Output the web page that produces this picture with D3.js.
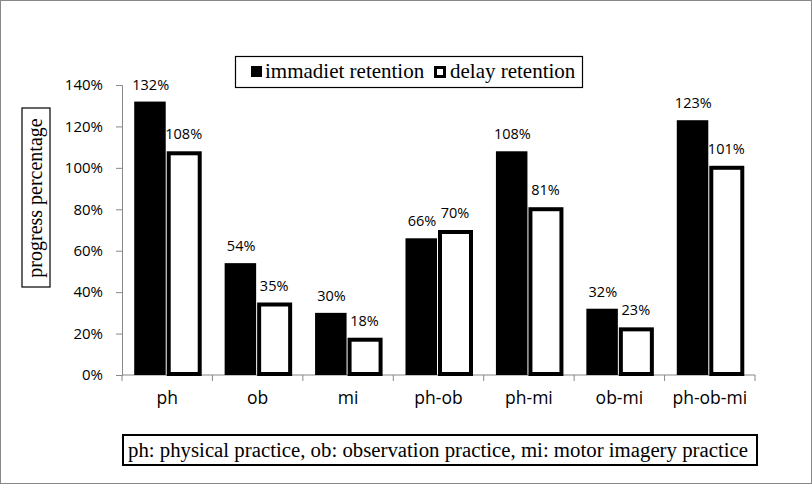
<!DOCTYPE html>
<html>
<head>
<meta charset="utf-8">
<script src="https://cdn.jsdelivr.net/npm/d3@7"></script>
<style>
  body { margin:0; background:#fff; }
  svg { display:block; }
</style>
</head>
<body>
<svg id="chart" width="812" height="484"></svg>
<script>
// data
var categories = ["ph","ob","mi","ph-ob","ph-mi","ob-mi","ph-ob-mi"];
var immediate = [132,54,30,66,108,32,123];
var delay = [108,35,18,70,81,23,101];
var seriesNames = ["immadiet retention","delay retention"];
var yTicks = [0,20,40,60,80,100,120,140];
var note = "ph: physical practice, ob: observation practice, mi: motor imagery practice";

var svg = d3.select("#chart");

// outer frame
svg.append("rect").attr("x",0.5).attr("y",0.5).attr("width",811).attr("height",483)
  .attr("fill","#fff").attr("stroke","#888").attr("stroke-width",1);

var pLeft=122, pRight=755, pTop=85, pBottom=375;

var y = d3.scaleLinear().domain([0,140]).range([pBottom,pTop]);
var x0 = d3.scaleBand().domain(categories).range([pLeft,pRight]).padding(0);
var x1 = d3.scaleBand().domain([0,1]).range([0,x0.bandwidth()]).paddingInner(0).paddingOuter(0.37);

var rows = categories.map(function(c,i){ return {cat:c, vals:[immediate[i],delay[i]]}; });

// y axis
var yAxis = svg.append("g").attr("transform","translate("+pLeft+",0)")
  .call(d3.axisLeft(y).tickValues(yTicks).tickSize(6).tickPadding(13).tickFormat(function(d){return d+"%";}));
yAxis.select(".domain").attr("stroke","#888");
yAxis.selectAll(".tick line").attr("stroke","#888");
yAxis.selectAll("text").attr("font-family","'Open Sans', sans-serif").attr("font-size","15px").attr("fill","#000");

// x axis: ticks at category boundaries
var xg = svg.append("g").attr("transform","translate(0,"+pBottom+")");
xg.append("line").attr("x1",pLeft).attr("x2",pRight).attr("stroke","#888");
var bounds = categories.map(function(c){return x0(c);}).concat([pRight]);
xg.selectAll(".tk").data(bounds).enter().append("line")
  .attr("x1",function(d){return d;}).attr("x2",function(d){return d;})
  .attr("y1",0).attr("y2",6).attr("stroke","#888");
xg.selectAll(".cl").data(categories).enter().append("text")
  .attr("x",function(d){return x0(d)+x0.bandwidth()/2;})
  .attr("y",29)
  .attr("text-anchor","middle")
  .attr("font-family","'Open Sans', sans-serif").attr("font-size","17.5px")
  .text(function(d){return d;});

// bars
var groups = svg.selectAll(".grp").data(rows).enter().append("g")
  .attr("transform",function(d){return "translate("+x0(d.cat)+",0)";});

groups.append("rect")
  .attr("x",x1(0)).attr("width",x1.bandwidth()-1.5)
  .attr("y",function(d){return y(d.vals[0]);})
  .attr("height",function(d){return pBottom-y(d.vals[0]);})
  .attr("fill","#000");

groups.append("rect")
  .attr("x",x1(1)+1.5).attr("width",x1.bandwidth()-2)
  .attr("y",function(d){return y(d.vals[1])+2;})
  .attr("height",function(d){return pBottom-y(d.vals[1])-3;})
  .attr("fill","#fff").attr("stroke","#000").attr("stroke-width",4);

// value labels
[0,1].forEach(function(s){
  groups.append("text")
    .attr("x",x1(s)+x1.bandwidth()/2)
    .attr("y",function(d){return y(d.vals[s])-12;})
    .attr("text-anchor","middle")
    .attr("font-family","'Open Sans', sans-serif").attr("font-size","14.5px")
    .text(function(d){return d.vals[s]+"%";});
});

// legend
var lg = svg.append("g");
lg.append("rect").attr("x",235.5).attr("y",56.5).attr("width",347).attr("height",31)
  .attr("fill","#fff").attr("stroke","#000").attr("stroke-width",1.2);
lg.append("rect").attr("x",251).attr("y",66).attr("width",11).attr("height",11).attr("fill","#000");
lg.append("text").attr("x",265).attr("y",78).attr("font-family","'Liberation Serif', serif")
  .attr("font-size","21px").text(seriesNames[0]);
lg.append("rect").attr("x",435.5).attr("y",67.5).attr("width",9).attr("height",9)
  .attr("fill","#fff").attr("stroke","#000").attr("stroke-width",3);
lg.append("text").attr("x",450).attr("y",78).attr("font-family","'Liberation Serif', serif")
  .attr("font-size","21px").text(seriesNames[1]);

// y title
svg.append("rect").attr("x",22).attr("y",108).attr("width",28).attr("height",179)
  .attr("fill","#fff").attr("stroke","#000").attr("stroke-width",1.2);
svg.append("text").attr("transform","translate(42,198) rotate(-90)")
  .attr("text-anchor","middle").attr("font-family","'Liberation Serif', serif")
  .attr("font-size","20px").text("progress percentage");

// footnote
svg.append("rect").attr("x",123).attr("y",435).attr("width",634).attr("height",30)
  .attr("fill","#fff").attr("stroke","#000").attr("stroke-width",2);
svg.append("text").attr("x",128).attr("y",457).attr("font-family","'Liberation Serif', serif")
  .attr("font-size","20.5px").attr("textLength",620).attr("lengthAdjust","spacingAndGlyphs").text(note);
</script>
</body>
</html>
